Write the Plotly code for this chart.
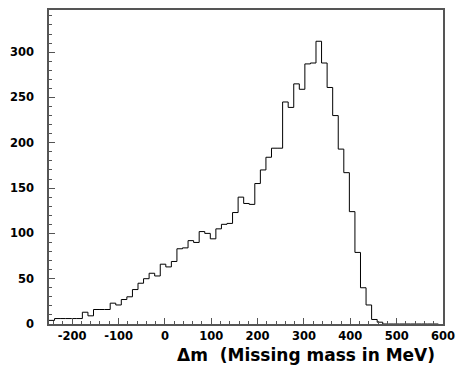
import plotly.graph_objects as go

# Missing-mass spectrum: 12 MeV bins starting at -250 MeV
bin_start = -250
bin_width = 12
counts = [
    4, 6, 6, 6, 6, 6, 13, 9, 16, 16,
    16, 23, 21, 27, 30, 38, 45, 50, 56, 53,
    66, 63, 69, 83, 84, 92, 90, 102, 100, 94,
    105, 110, 111, 123, 140, 133, 132, 155, 170, 184,
    194, 194, 245, 239, 265, 259, 287, 288, 312, 288,
    261, 230, 193, 167, 124, 79, 40, 21, 5, 2,
    0, 0, 0, 0, 0, 0, 0, 0, 0, 0,
]

x_ticks = [-200, -100, 0, 100, 200, 300, 400, 500, 600]
y_ticks = [0, 50, 100, 150, 200, 250, 300]
x_title = "Δm\u00a0\u00a0(Missing mass in MeV)"

# bin edges for the step outline
edges = [bin_start + i * bin_width for i in range(len(counts) + 1)]
steps = counts + [counts[-1]]

fig = go.Figure()
fig.add_trace(go.Scatter(
    x=edges, y=steps, mode="lines",
    line=dict(shape="hv", color="black", width=1),
    hoverinfo="skip", showlegend=False,
))

tick_font = dict(family="DejaVu Sans", size=11.5, color="black", weight="bold")
axis_common = dict(
    showline=True, linecolor="#555555", linewidth=1.5, mirror=True,
    showgrid=False, zeroline=False,
    ticks="inside", ticklen=6, tickwidth=1, tickcolor="#555555",
    tickfont=tick_font, ticklabeloverflow="allow", automargin=False,
)

fig.update_xaxes(
    range=[-250, 600], tickvals=x_ticks, ticktext=[str(v) for v in x_ticks],
    minor=dict(dtick=20, tick0=0, ticks="inside", ticklen=3, tickcolor="#555555", tickwidth=1),
    **axis_common,
)
fig.update_yaxes(
    range=[0, 346.5], tickvals=y_ticks, ticktext=[str(v) for v in y_ticks],
    minor=dict(dtick=10, tick0=0, ticks="inside", ticklen=3, tickcolor="#555555", tickwidth=1),
    ticklabelstandoff=11,
    **axis_common,
)

fig.add_annotation(
    text=x_title, xref="paper", yref="paper", x=0.985, y=-0.06,
    xanchor="right", yanchor="top", showarrow=False,
    font=dict(family="DejaVu Sans", size=17, color="black", weight="bold"),
)

fig.update_layout(
    width=456, height=366,
    margin=dict(l=49, r=13, t=10, b=41.5),
    paper_bgcolor="white", plot_bgcolor="white",
)

fig.write_html("out.html")
